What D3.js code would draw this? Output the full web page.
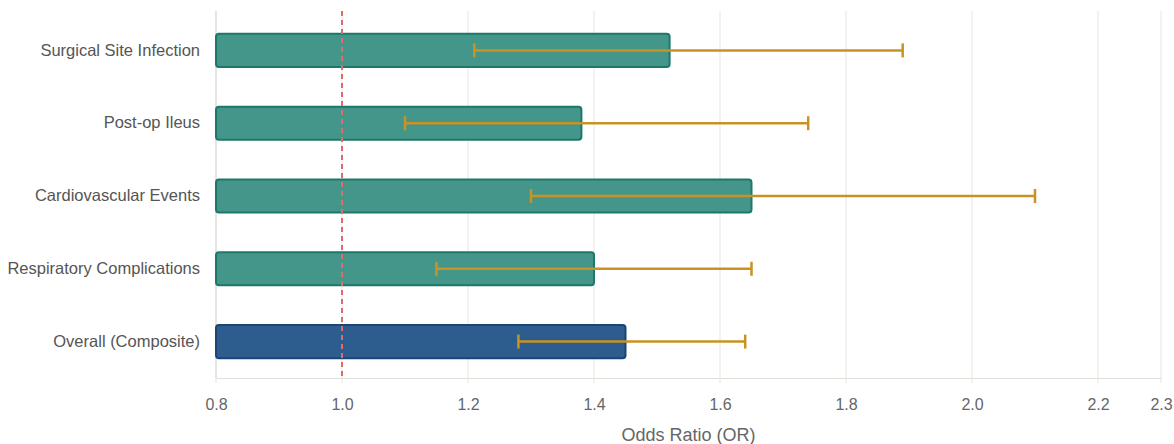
<!DOCTYPE html>
<html><head><meta charset="utf-8">
<script src="https://cdn.jsdelivr.net/npm/d3@7"></script>
<style>body{margin:0;background:#fff}svg{display:block;font-family:"Liberation Sans",Arial,sans-serif}</style>
</head><body><svg id="c" width="1174" height="444"></svg>
<script>
const categories = ["Surgical Site Infection","Post-op Ileus","Cardiovascular Events","Respiratory Complications","Overall (Composite)"];
const oddsRatio = [1.52, 1.38, 1.65, 1.40, 1.45];
const ciLow = [1.21, 1.10, 1.30, 1.15, 1.28];
const ciHigh = [1.89, 1.74, 2.10, 1.65, 1.64];
const tickValues = [0.8,1.0,1.2,1.4,1.6,1.8,2.0,2.2,2.3];

const svg = d3.select("#c");
const m = {l:216, r:13, t:14, b:66};
const W = 1174, H = 444;
const x = d3.scaleLinear().domain([0.8,2.3]).range([m.l, W-m.r]);
const y = d3.scaleBand().domain(categories).range([m.t, H-m.b]).paddingInner(0.546).paddingOuter(0.273);

// grid
svg.append("g").selectAll("line").data(tickValues).join("line")
  .attr("x1",d=>x(d)).attr("x2",d=>x(d)).attr("y1",11).attr("y2",H-m.b+5)
  .attr("stroke","#e9e5dd").attr("stroke-width",1);

// axes
const xa = svg.append("g").attr("transform",`translate(0,${H-m.b})`)
  .call(d3.axisBottom(x).tickValues(tickValues).tickFormat(d3.format(".1f")).tickSize(0).tickPadding(21));
xa.select(".domain").attr("stroke","#e2dfd8");
xa.selectAll("text").attr("fill","#666").attr("font-size",16).attr("font-family","Liberation Sans, Arial");

svg.append("line").attr("x1",m.l).attr("x2",m.l).attr("y1",11).attr("y2",H-m.b)
  .attr("stroke","#d8d5ce");

const ya = svg.append("g").attr("transform",`translate(${m.l},0)`)
  .call(d3.axisLeft(y).tickSize(0).tickPadding(16));
ya.select(".domain").remove();
ya.selectAll("text").attr("fill","#555").attr("font-size",16.5).attr("font-family","Liberation Sans, Arial");

// bars
svg.append("g").selectAll("rect").data(categories).join("rect")
  .attr("x",x(0.8)).attr("y",d=>y(d)).attr("height",y.bandwidth())
  .attr("width",(d,i)=>x(oddsRatio[i])-x(0.8))
  .attr("rx",3)
  .attr("fill",(d,i)=>i===4?"#2c5d8e":"#44968b")
  .attr("stroke",(d,i)=>i===4?"#1b4575":"#1c786a")
  .attr("stroke-width",2);

// reference line
svg.append("line").attr("x1",x(1)).attr("x2",x(1)).attr("y1",11).attr("y2",H-m.b)
  .attr("stroke","#e26a6a").attr("stroke-width",2).attr("stroke-dasharray","5,4");

// error bars
const eb = svg.append("g").attr("stroke","#c99323").attr("stroke-width",2.5);
categories.forEach((c,i)=>{
  const cy = y(c)+y.bandwidth()/2;
  eb.append("line").attr("x1",x(ciLow[i])).attr("x2",x(ciHigh[i])).attr("y1",cy).attr("y2",cy);
  [ciLow[i],ciHigh[i]].forEach(v=>eb.append("line").attr("x1",x(v)).attr("x2",x(v)).attr("y1",cy-7).attr("y2",cy+7));
});

svg.append("text").attr("x",(x(0.8)+x(2.3))/2).attr("y",441).attr("text-anchor","middle")
  .attr("fill","#666").attr("font-size",18).text("Odds Ratio (OR)");
</script></body></html>
